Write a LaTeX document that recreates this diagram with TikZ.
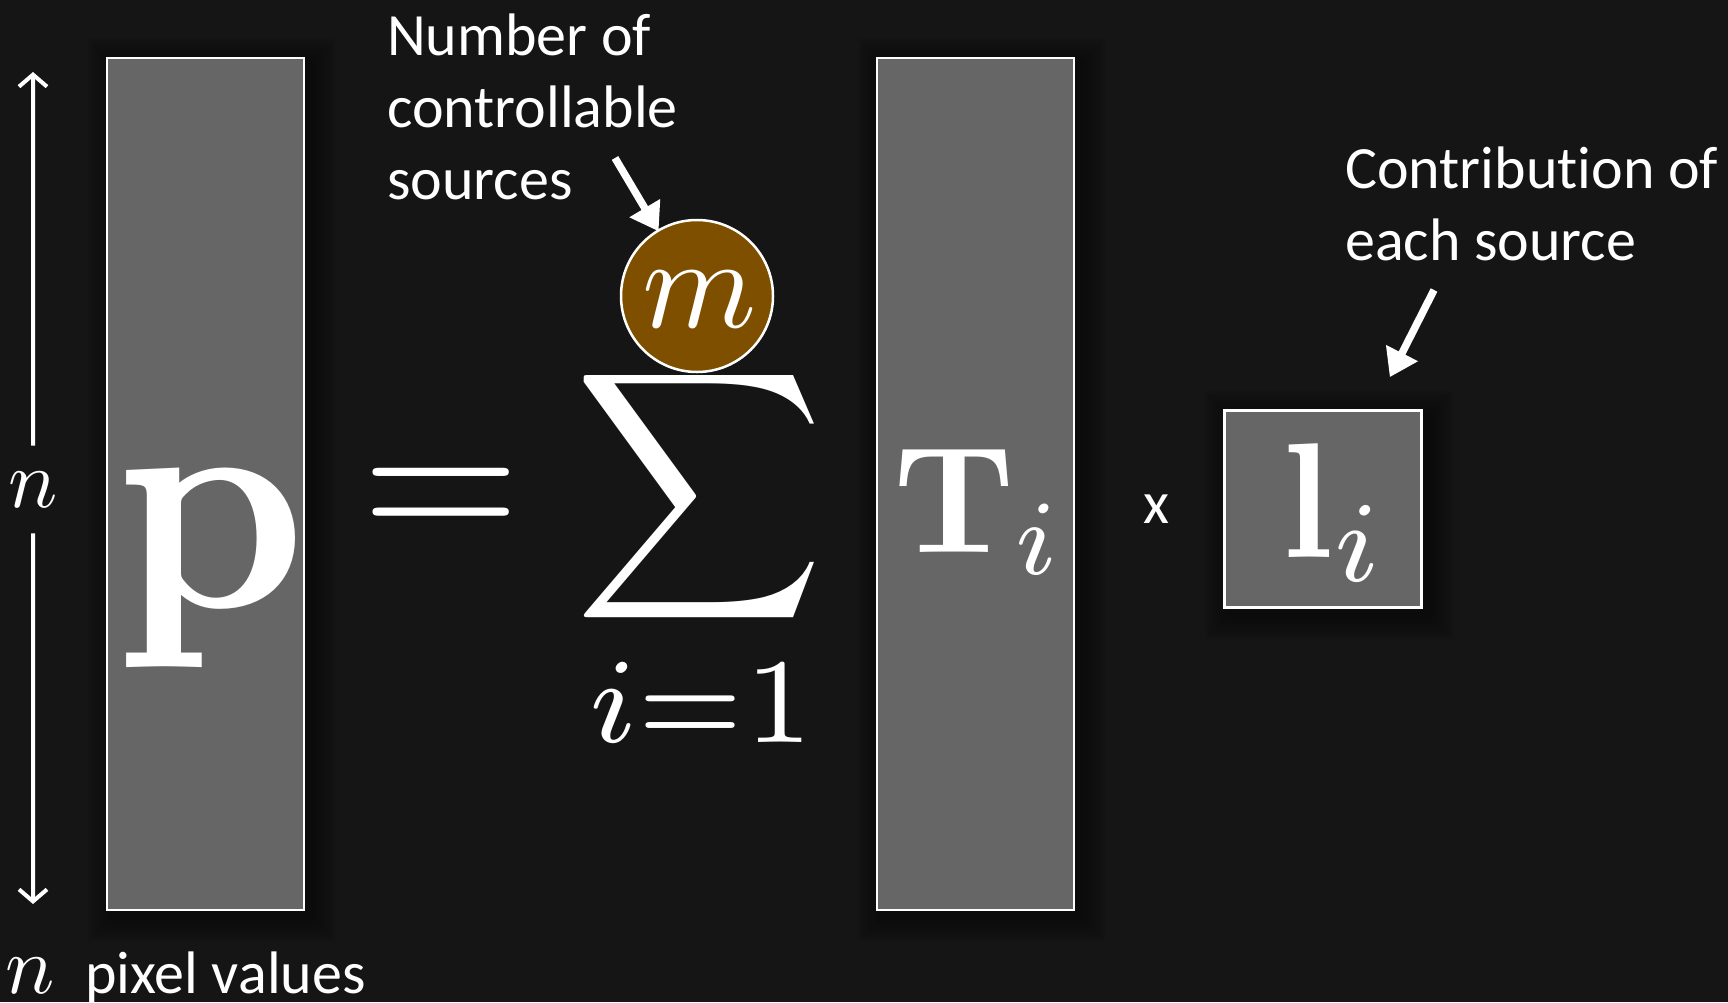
\documentclass[tikz,border=0pt]{standalone}
\usepackage[no-math]{fontspec}
\newfontfamily\calib[Ligatures={NoCommon}]{Carlito}
\usetikzlibrary{arrows.meta,backgrounds}
\definecolor{bgc}{RGB}{21,21,21}
\definecolor{boxc}{RGB}{102,102,102}
\definecolor{brownc}{RGB}{127,79,0}
\begin{document}
\begin{tikzpicture}[x=1pt,y=-1pt,
  vbox/.style={draw=white, line width=2.5pt, fill=boxc, inner sep=0pt, minimum width=197pt, minimum height=852pt},
  lbl/.style={font=\calib\fontsize{60}{72}\selectfont, text=white, inner sep=0pt, align=left},
  mth/.style={text=white, inner sep=0pt},
  dimarrow/.style={draw=white, line width=4pt, -{Straight Barb[length=12pt,width=28pt]}},
  callout/.style={draw=white, line width=7.5pt, -{Triangle[length=27pt,width=34pt]}}
]
\useasboundingbox (0,0) rectangle (1728,1002);

% boxes
\node[vbox] (pbox) at (205.5,484) {};
\node[vbox] (tbox) at (975.5,484) {};
\node[vbox, minimum width=197pt, minimum height=197pt] (lbox) at (1323,509) {};

\begin{pgfonlayer}{background}
\fill[bgc] (0,0) rectangle (1728,1002);
\foreach \b in {pbox,tbox,lbox}{
  \foreach \s in {3,6,...,24}{
    \fill[black, opacity=0.06] ([xshift={(6-\s)*1pt}, yshift={(\s-6)*1pt}]\b.north west)
      rectangle ([xshift={(6+\s)*1pt}, yshift={(-6-\s)*1pt}]\b.south east);
  }
}
\end{pgfonlayer}

% math symbols
\node[mth, xscale=30, yscale=31, anchor=base] (p) at (211,607) {$\mathbf{p}$};
\node[mth, scale=15.2, anchor=base west] (t) at (890,552) {$\mathbf{T}_i$};
\node[mth, scale=16.4, anchor=base west] (l) at (1278,557) {$\mathbf{l}_i$};
\node[mth, scale=20.5, anchor=base] (eq) at (441,543) {$=$};
\node[mth, scale=17.3] (sum) at (699,497) {$\displaystyle\sum$};
\node[mth, scale=17.3, anchor=base] (lim) at (701,742) {$\scriptstyle i=1$};
\node[circle, draw=white, line width=2.5pt, fill=brownc, minimum size=152pt, inner sep=0pt] (mc) at (697,296) {};
\node[mth, scale=13, anchor=base] (m) at (700,327) {$m$};

% dimension arrow
\node[mth, scale=8.2] (nv) at (33,490) {$n$};
\coordinate (ntop) at (33,72);
\coordinate (nbot) at (33,904);
\draw[dimarrow, shorten <=25pt] (nv) -- (ntop);
\draw[dimarrow, shorten <=24pt] (nv) -- (nbot);

% bottom label
\node[mth, scale=8.2, anchor=base] (nb) at (30,993) {$n$};
\node[lbl, anchor=base west] (pv) at (85,993) {pixel values};

% times
\node[lbl, anchor=base west] (times) at (1143,523) {x};

% annotations
\node[lbl, anchor=base west] (num) at (387,199) {Number of\\controllable\\sources};
\node[lbl, anchor=base west] (contrib) at (1345,260) {Contribution of\\each source};

\coordinate (c1) at (615,158);
\draw[callout, shorten >=-2pt] (c1) -- (mc);
\coordinate (c2) at (1434,290);
\draw[callout, shorten >=36pt] (c2) -- (lbox);
\end{tikzpicture}
\end{document}
